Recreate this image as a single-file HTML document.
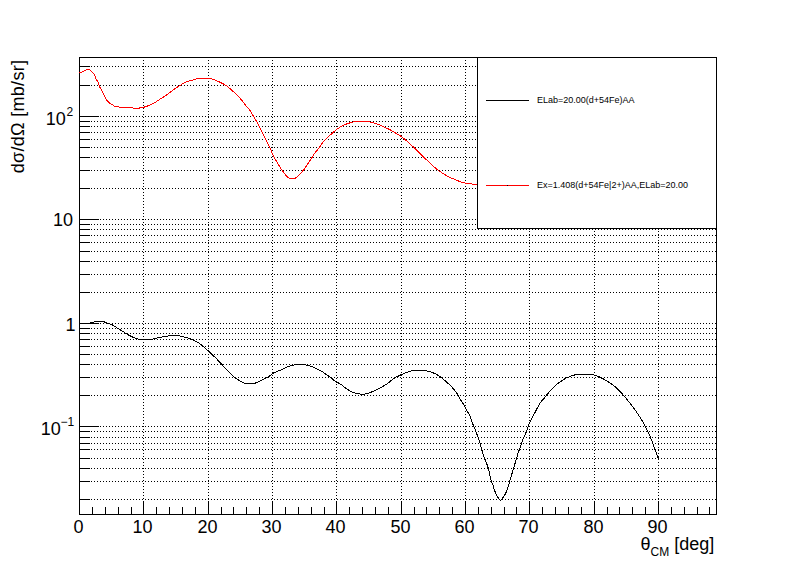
<!DOCTYPE html>
<html><head><meta charset="utf-8"><style>
html,body{margin:0;padding:0;background:#fff;}
svg{display:block;}
.crisp path,.crisp rect{shape-rendering:crispEdges;}
text{font-family:'Liberation Sans',sans-serif;fill:#000;}
.lab{font-size:18px;}
.sup{font-size:12px;}
.sub{font-size:12px;}
.leg{font-size:9px;}
</style></head><body>
<svg width="796" height="572" viewBox="0 0 796 572">
<rect x="0" y="0" width="796" height="572" fill="#fff"/>
<g class="crisp">
<path d="M79 499.5H717M79 481.5H717M79 468.5H717M79 458.5H717M79 449.5H717M79 443.5H717M79 437.5H717M79 431.5H717M79 426.5H717M79 395.5H717M79 377.5H717M79 364.5H717M79 354.5H717M79 346.5H717M79 339.5H717M79 333.5H717M79 328.5H717M79 323.5H717M79 292.5H717M79 274.5H717M79 261.5H717M79 251.5H717M79 242.5H717M79 235.5H717M79 229.5H717M79 224.5H717M79 219.5H717M79 188.5H717M79 170.5H717M79 157.5H717M79 147.5H717M79 139.5H717M79 132.5H717M79 126.5H717M79 121.5H717M79 116.5H717M79 85.5H717M79 66.5H717" stroke="#000" stroke-width="1" stroke-dasharray="1 2" fill="none"/>
<path d="M143.5 57V515M208.5 57V515M272.5 57V515M336.5 57V515M401.5 57V515M465.5 57V515M529.5 57V515M594.5 57V515M658.5 57V515" stroke="#000" stroke-width="1" stroke-dasharray="1 2" fill="none"/>
<rect x="79.5" y="57.5" width="637" height="457" fill="none" stroke="#000" stroke-width="1"/>
<path d="M79 499.5H90M79 481.5H90M79 468.5H90M79 458.5H90M79 449.5H90M79 443.5H90M79 437.5H90M79 431.5H90M79 426.5H99M79 395.5H90M79 377.5H90M79 364.5H90M79 354.5H90M79 346.5H90M79 339.5H90M79 333.5H90M79 328.5H90M79 323.5H99M79 292.5H90M79 274.5H90M79 261.5H90M79 251.5H90M79 242.5H90M79 235.5H90M79 229.5H90M79 224.5H90M79 219.5H99M79 188.5H90M79 170.5H90M79 157.5H90M79 147.5H90M79 139.5H90M79 132.5H90M79 126.5H90M79 121.5H90M79 116.5H99M79 85.5H90M79 66.5H90" stroke="#000" stroke-width="1" fill="none"/>
<path d="M79.5 502V515M92.5 507V515M105.5 507V515M118.5 507V515M131.5 507V515M143.5 502V515M156.5 507V515M169.5 507V515M182.5 507V515M195.5 507V515M208.5 502V515M221.5 507V515M233.5 507V515M246.5 507V515M259.5 507V515M272.5 502V515M285.5 507V515M298.5 507V515M311.5 507V515M324.5 507V515M336.5 502V515M349.5 507V515M362.5 507V515M375.5 507V515M388.5 507V515M401.5 502V515M414.5 507V515M426.5 507V515M439.5 507V515M452.5 507V515M465.5 502V515M478.5 507V515M491.5 507V515M504.5 507V515M516.5 507V515M529.5 502V515M542.5 507V515M555.5 507V515M568.5 507V515M581.5 507V515M594.5 502V515M607.5 507V515M619.5 507V515M632.5 507V515M645.5 507V515M658.5 502V515M671.5 507V515M684.5 507V515M697.5 507V515M709.5 507V515" stroke="#000" stroke-width="1" fill="none"/>
<path d="M79.50 323.50L81.62 323.43L84.69 323.34L87.91 323.21L90.50 323.00L92.20 322.66L93.44 322.23L94.46 321.81L95.50 321.50L96.57 321.35L97.56 321.29L98.52 321.29L99.50 321.30L100.55 321.30L101.62 321.33L102.64 321.38L103.50 321.50L104.12 321.69L104.56 321.95L104.98 322.23L105.50 322.50L106.18 322.75L106.94 323.00L107.73 323.25L108.50 323.50L109.27 323.75L110.06 324.00L110.82 324.25L111.50 324.50L112.05 324.73L112.50 324.94L112.95 325.18L113.50 325.50L114.18 325.93L114.94 326.44L115.73 326.98L116.50 327.50L117.27 328.02L118.06 328.56L118.82 329.07L119.50 329.50L120.05 329.80L120.50 330.00L120.95 330.20L121.50 330.50L122.18 330.93L122.94 331.44L123.73 331.98L124.50 332.50L125.25 333.01L126.00 333.53L126.75 334.04L127.50 334.50L128.25 334.91L129.00 335.28L129.75 335.64L130.50 336.00L131.25 336.39L132.00 336.78L132.75 337.16L133.50 337.50L134.25 337.79L135.00 338.03L135.75 338.26L136.50 338.50L137.17 338.77L137.78 339.06L138.50 339.32L139.50 339.50L140.89 339.58L142.56 339.57L144.33 339.54L146.00 339.50L147.61 339.48L149.22 339.45L150.72 339.40L152.00 339.30L152.93 339.15L153.59 338.95L154.21 338.73L155.00 338.50L155.98 338.26L157.06 338.01L158.23 337.75L159.50 337.50L160.91 337.25L162.44 336.99L164.00 336.74L165.50 336.50L166.97 336.25L168.44 335.99L169.81 335.77L171.00 335.60L171.90 335.51L172.59 335.49L173.24 335.49L174.00 335.50L174.93 335.49L175.94 335.49L176.98 335.51L178.00 335.60L178.99 335.77L179.97 335.99L180.96 336.25L182.00 336.50L183.12 336.74L184.31 336.99L185.47 337.25L186.50 337.50L187.34 337.74L188.06 337.97L188.75 338.21L189.50 338.50L190.33 338.83L191.19 339.19L192.08 339.58L193.00 340.00L194.00 340.48L195.06 341.00L196.09 341.52L197.00 342.00L197.65 342.33L198.14 342.57L198.68 342.90L199.50 343.50L200.71 344.45L202.16 345.64L203.74 346.96L205.30 348.30L206.84 349.65L208.42 351.06L210.01 352.52L211.60 354.00L213.17 355.50L214.75 357.02L216.32 358.59L217.90 360.20L219.56 361.98L221.29 363.89L222.89 365.67L224.20 367.10L225.06 367.98L225.61 368.48L226.07 368.89L226.70 369.50L227.58 370.41L228.57 371.46L229.58 372.53L230.50 373.50L231.34 374.36L232.14 375.17L232.87 375.89L233.50 376.50L233.97 376.95L234.31 377.26L234.62 377.52L235.00 377.80L235.46 378.10L235.95 378.39L236.47 378.68L237.00 379.00L237.54 379.35L238.11 379.73L238.69 380.12L239.30 380.50L239.96 380.89L240.65 381.28L241.34 381.66L242.00 382.00L242.59 382.30L243.15 382.56L243.71 382.80L244.30 383.00L244.89 383.17L245.48 383.31L246.15 383.42L247.00 383.50L248.15 383.54L249.51 383.53L250.87 383.51L252.00 383.50L252.81 383.52L253.44 383.56L253.98 383.57L254.50 383.50L255.00 383.32L255.44 383.06L255.89 382.77L256.40 382.50L257.01 382.25L257.69 382.00L258.38 381.75L259.00 381.50L259.54 381.25L260.02 381.00L260.49 380.75L261.00 380.50L261.56 380.25L262.15 380.00L262.74 379.75L263.30 379.50L263.82 379.25L264.32 379.00L264.81 378.75L265.30 378.50L265.78 378.26L266.24 378.03L266.71 377.78L267.20 377.50L267.73 377.18L268.29 376.84L268.85 376.47L269.40 376.10L269.95 375.70L270.51 375.28L271.03 374.86L271.50 374.50L271.87 374.21L272.17 373.96L272.46 373.74L272.80 373.50L273.21 373.25L273.64 373.00L274.11 372.75L274.60 372.50L275.11 372.25L275.66 372.00L276.22 371.75L276.80 371.50L277.40 371.25L278.03 371.00L278.66 370.75L279.30 370.50L279.95 370.25L280.62 370.00L281.28 369.75L281.90 369.50L282.46 369.25L282.99 369.00L283.49 368.75L284.00 368.50L284.49 368.25L284.97 368.00L285.46 367.75L286.00 367.50L286.62 367.24L287.31 366.98L287.99 366.73L288.60 366.50L289.06 366.31L289.42 366.15L289.84 365.99L290.50 365.80L291.47 365.56L292.66 365.29L293.94 365.02L295.20 364.80L296.40 364.61L297.61 364.44L298.87 364.33L300.20 364.30L301.67 364.37L303.25 364.53L304.83 364.74L306.30 365.00L307.63 365.30L308.87 365.66L310.08 366.06L311.30 366.50L312.53 366.96L313.76 367.46L315.00 368.00L316.30 368.60L317.71 369.27L319.20 370.00L320.66 370.76L322.00 371.50L323.16 372.23L324.19 372.95L325.19 373.68L326.20 374.40L327.24 375.10L328.27 375.79L329.31 376.50L330.40 377.30L331.53 378.23L332.68 379.25L333.87 380.27L335.10 381.20L336.39 381.97L337.72 382.65L339.07 383.33L340.40 384.10L341.71 385.02L343.01 386.02L344.30 387.04L345.60 388.00L346.90 388.92L348.19 389.82L349.49 390.67L350.80 391.40L352.09 392.00L353.36 392.51L354.68 392.93L356.10 393.30L357.67 393.64L359.34 393.94L361.04 394.15L362.70 394.20L364.30 394.09L365.87 393.83L367.43 393.46L369.00 393.00L370.57 392.42L372.15 391.72L373.73 390.96L375.30 390.20L376.88 389.46L378.46 388.71L380.03 387.93L381.60 387.10L383.15 386.23L384.70 385.32L386.25 384.35L387.80 383.30L389.37 382.09L390.94 380.76L392.52 379.45L394.10 378.30L395.68 377.36L397.25 376.56L398.82 375.82L400.40 375.10L401.97 374.37L403.55 373.68L405.12 373.01L406.70 372.40L408.28 371.81L409.87 371.25L411.45 370.76L413.00 370.40L414.50 370.18L415.96 370.08L417.44 370.06L419.00 370.10L420.75 370.20L422.62 370.38L424.44 370.59L426.00 370.80L427.21 370.97L428.19 371.14L429.07 371.34L430.00 371.60L431.00 371.93L431.99 372.32L432.99 372.75L434.00 373.20L435.02 373.67L436.05 374.18L437.08 374.71L438.10 375.30L439.11 375.93L440.11 376.61L441.10 377.33L442.10 378.10L443.10 378.94L444.10 379.85L445.10 380.78L446.10 381.70L447.10 382.58L448.09 383.45L449.09 384.34L450.10 385.30L451.14 386.34L452.20 387.44L453.24 388.57L454.20 389.70L455.05 390.76L455.81 391.80L456.57 392.91L457.40 394.20L458.34 395.79L459.35 397.58L460.36 399.39L461.30 401.00L462.18 402.35L463.03 403.55L463.81 404.68L464.50 405.80L465.07 406.97L465.53 408.13L465.96 409.22L466.40 410.20L466.88 410.99L467.35 411.64L467.82 412.27L468.30 413.00L468.77 413.82L469.23 414.68L469.70 415.65L470.20 416.80L470.73 418.23L471.28 419.88L471.84 421.56L472.40 423.10L472.96 424.44L473.52 425.68L474.08 426.88L474.60 428.10L475.07 429.35L475.51 430.59L475.94 431.84L476.40 433.10L476.91 434.33L477.44 435.55L477.98 436.82L478.50 438.20L478.99 439.73L479.46 441.38L479.92 443.08L480.40 444.80L480.89 446.56L481.39 448.36L481.89 450.16L482.40 451.90L482.92 453.57L483.44 455.21L483.97 456.79L484.50 458.30L485.05 459.69L485.60 460.99L486.15 462.30L486.70 463.70L487.24 465.19L487.77 466.74L488.30 468.39L488.80 470.20L489.26 472.32L489.70 474.67L490.14 476.99L490.60 479.00L491.11 480.58L491.65 481.89L492.19 483.10L492.70 484.40L493.16 485.84L493.60 487.32L494.04 488.80L494.50 490.20L495.00 491.55L495.53 492.86L496.07 494.09L496.60 495.20L497.14 496.18L497.68 497.06L498.21 497.83L498.70 498.50L499.14 499.11L499.54 499.63L499.92 500.02L500.30 500.20L500.68 500.12L501.06 499.81L501.43 499.40L501.80 499.00L502.16 498.62L502.51 498.21L502.85 497.76L503.20 497.30L503.53 496.86L503.86 496.43L504.20 495.90L504.60 495.20L505.06 494.34L505.56 493.36L506.11 492.18L506.70 490.70L507.32 488.94L507.97 486.94L508.69 484.64L509.50 482.00L510.49 478.70L511.62 474.86L512.71 471.11L513.60 468.10L514.20 466.10L514.62 464.73L514.95 463.65L515.30 462.50L515.66 461.27L515.99 460.11L516.33 458.95L516.70 457.70L517.11 456.31L517.56 454.84L518.02 453.35L518.50 451.90L519.01 450.52L519.56 449.18L520.10 447.85L520.60 446.50L521.03 445.14L521.42 443.77L521.83 442.40L522.30 441.00L522.89 439.53L523.55 438.01L524.21 436.53L524.80 435.20L525.28 434.11L525.69 433.19L526.08 432.27L526.50 431.20L526.94 429.91L527.39 428.48L527.87 427.02L528.40 425.60L529.00 424.25L529.66 422.93L530.33 421.61L531.00 420.30L531.60 419.08L532.17 417.93L532.80 416.66L533.60 415.10L534.69 413.02L535.97 410.56L537.25 408.15L538.30 406.20L539.01 404.88L539.51 403.96L539.95 403.20L540.50 402.40L541.21 401.51L541.99 400.65L542.78 399.81L543.50 399.00L544.13 398.21L544.70 397.45L545.25 396.71L545.80 396.00L546.34 395.34L546.85 394.73L547.39 394.10L548.00 393.40L548.71 392.60L549.50 391.72L550.31 390.84L551.10 390.00L551.86 389.22L552.61 388.48L553.35 387.75L554.10 387.00L554.87 386.19L555.64 385.36L556.40 384.56L557.10 383.90L557.73 383.41L558.30 383.05L558.85 382.74L559.40 382.40L559.95 382.02L560.50 381.65L561.05 381.27L561.60 380.90L562.17 380.52L562.75 380.15L563.33 379.77L563.90 379.40L564.44 379.01L564.95 378.62L565.49 378.24L566.10 377.90L566.81 377.62L567.60 377.38L568.41 377.15L569.20 376.90L569.92 376.61L570.61 376.31L571.35 376.00L572.20 375.70L573.15 375.39L574.18 375.08L575.34 374.80L576.70 374.60L578.32 374.50L580.16 374.48L582.10 374.49L584.00 374.50L585.89 374.47L587.81 374.44L589.70 374.46L591.50 374.60L593.13 374.86L594.64 375.22L596.16 375.69L597.80 376.30L599.62 377.08L601.54 378.02L603.50 379.04L605.40 380.10L607.25 381.17L609.08 382.29L610.87 383.47L612.60 384.70L614.24 385.97L615.81 387.29L617.35 388.69L618.90 390.20L620.48 391.84L622.05 393.60L623.63 395.43L625.20 397.30L626.78 399.20L628.35 401.16L629.93 403.16L631.50 405.20L633.08 407.26L634.65 409.35L636.22 411.51L637.80 413.80L639.41 416.28L641.05 418.90L642.64 421.55L644.10 424.10L645.39 426.46L646.55 428.71L647.66 431.00L648.80 433.50L649.99 436.30L651.20 439.30L652.38 442.35L653.50 445.30L654.60 448.32L655.67 451.43L656.64 454.22L657.40 456.30L657.90 457.42L658.19 457.84L658.37 457.91L658.50 458.00" stroke="#000" stroke-width="1" fill="none" stroke-linejoin="round"/>
<path d="M79.00 72.50L79.36 72.50L79.88 72.51L80.45 72.48L81.00 72.40L81.49 72.23L81.98 72.01L82.48 71.75L83.00 71.50L83.57 71.25L84.17 71.00L84.76 70.75L85.30 70.50L85.77 70.25L86.20 69.99L86.60 69.77L87.00 69.60L87.39 69.50L87.76 69.45L88.13 69.45L88.50 69.50L88.88 69.61L89.26 69.78L89.64 69.99L90.00 70.20L90.34 70.43L90.67 70.67L90.99 70.94L91.30 71.20L91.61 71.47L91.92 71.74L92.22 72.02L92.50 72.30L92.75 72.55L92.96 72.77L93.20 73.06L93.50 73.50L93.91 74.17L94.39 74.99L94.88 75.87L95.30 76.70L95.60 77.45L95.83 78.17L96.07 78.88L96.40 79.60L96.88 80.31L97.46 81.00L98.04 81.72L98.50 82.50L98.78 83.36L98.94 84.28L99.11 85.24L99.40 86.20L99.87 87.20L100.44 88.22L101.05 89.24L101.60 90.20L102.09 91.08L102.54 91.91L102.98 92.71L103.40 93.50L103.81 94.28L104.19 95.05L104.56 95.79L104.90 96.50L105.19 97.16L105.43 97.79L105.69 98.40L106.00 99.00L106.39 99.59L106.83 100.17L107.31 100.74L107.80 101.30L108.32 101.88L108.87 102.47L109.44 103.03L110.00 103.50L110.55 103.84L111.10 104.09L111.65 104.32L112.20 104.60L112.73 105.00L113.25 105.46L113.79 105.89L114.40 106.20L115.10 106.33L115.86 106.33L116.64 106.32L117.40 106.40L118.06 106.64L118.66 106.98L119.36 107.30L120.30 107.50L121.64 107.53L123.25 107.46L124.89 107.35L126.30 107.30L127.34 107.31L128.17 107.34L128.99 107.40L130.00 107.50L131.26 107.70L132.65 107.96L134.14 108.20L135.70 108.30L137.36 108.24L139.12 108.07L140.90 107.82L142.60 107.50L144.20 107.11L145.74 106.64L147.26 106.11L148.80 105.50L150.37 104.83L151.94 104.08L153.52 103.27L155.10 102.40L156.67 101.45L158.25 100.42L159.82 99.36L161.40 98.30L162.97 97.28L164.53 96.26L166.10 95.22L167.70 94.10L169.40 92.83L171.17 91.46L172.88 90.13L174.40 89.00L175.66 88.16L176.74 87.51L177.75 86.93L178.80 86.30L179.90 85.57L181.00 84.80L182.10 84.06L183.20 83.40L184.30 82.84L185.40 82.35L186.50 81.91L187.60 81.50L188.70 81.13L189.80 80.81L190.90 80.50L192.00 80.20L193.12 79.88L194.25 79.55L195.36 79.25L196.40 79.00L197.32 78.81L198.16 78.67L199.02 78.57L200.00 78.50L201.16 78.46L202.44 78.46L203.75 78.48L205.00 78.50L206.18 78.49L207.34 78.48L208.47 78.50L209.60 78.60L210.71 78.79L211.81 79.04L212.90 79.35L214.00 79.70L215.10 80.09L216.19 80.53L217.29 81.00L218.40 81.50L219.53 82.03L220.68 82.58L221.84 83.17L223.00 83.80L224.10 84.39L225.16 84.97L226.31 85.69L227.70 86.70L229.47 88.15L231.51 89.93L233.57 91.79L235.40 93.50L236.93 94.97L238.29 96.35L239.55 97.70L240.80 99.10L242.02 100.57L243.19 102.08L244.33 103.60L245.50 105.10L246.72 106.58L247.97 108.05L249.18 109.52L250.30 111.00L251.29 112.49L252.18 113.99L253.04 115.50L253.90 117.00L254.81 118.53L255.72 120.08L256.60 121.59L257.40 123.00L258.05 124.21L258.59 125.28L259.14 126.39L259.80 127.70L260.62 129.30L261.53 131.09L262.47 132.96L263.40 134.80L264.30 136.60L265.21 138.40L266.11 140.20L267.00 142.00L267.91 143.83L268.84 145.69L269.73 147.48L270.50 149.10L271.11 150.47L271.61 151.67L272.07 152.81L272.60 154.00L273.21 155.30L273.86 156.63L274.53 157.95L275.20 159.20L275.87 160.36L276.55 161.45L277.23 162.52L277.90 163.60L278.56 164.72L279.21 165.86L279.85 166.96L280.50 168.00L281.15 168.94L281.80 169.81L282.45 170.65L283.10 171.50L283.73 172.38L284.34 173.27L284.99 174.15L285.70 175.00L286.51 175.89L287.39 176.80L288.30 177.61L289.20 178.20L290.10 178.49L291.01 178.57L291.89 178.54L292.70 178.50L293.41 178.52L294.05 178.52L294.66 178.44L295.30 178.20L295.95 177.77L296.59 177.20L297.27 176.53L298.00 175.80L298.84 174.99L299.76 174.09L300.67 173.17L301.50 172.30L302.19 171.57L302.80 170.91L303.41 170.20L304.10 169.30L304.91 168.13L305.79 166.79L306.70 165.37L307.60 164.00L308.48 162.70L309.35 161.40L310.23 160.10L311.10 158.80L311.95 157.49L312.79 156.18L313.66 154.85L314.60 153.50L315.66 152.11L316.79 150.69L317.94 149.28L319.00 147.90L319.90 146.60L320.69 145.34L321.54 144.07L322.60 142.70L323.96 141.19L325.53 139.58L327.18 137.96L328.80 136.40L330.37 134.90L331.94 133.43L333.52 132.02L335.10 130.70L336.68 129.47L338.25 128.31L339.83 127.25L341.40 126.30L342.97 125.48L344.55 124.78L346.12 124.16L347.70 123.60L349.27 123.08L350.85 122.62L352.43 122.22L354.00 121.90L355.58 121.66L357.16 121.49L358.73 121.38L360.30 121.30L361.85 121.25L363.40 121.24L364.95 121.28L366.50 121.40L368.07 121.60L369.64 121.88L371.22 122.21L372.80 122.60L374.38 123.04L375.95 123.54L377.53 124.10L379.10 124.70L380.68 125.36L382.25 126.09L383.82 126.84L385.40 127.60L386.98 128.34L388.56 129.09L390.13 129.87L391.70 130.70L393.34 131.65L395.02 132.69L396.60 133.69L397.90 134.50L398.76 134.99L399.29 135.27L399.81 135.56L400.60 136.10L401.76 136.96L403.14 138.01L404.62 139.18L406.10 140.40L407.58 141.68L409.11 143.05L410.66 144.47L412.20 145.90L413.72 147.34L415.24 148.81L416.77 150.30L418.30 151.80L419.85 153.32L421.40 154.86L422.95 156.40L424.50 157.90L426.03 159.36L427.56 160.79L429.08 162.20L430.60 163.60L432.12 165.02L433.65 166.44L435.18 167.81L436.70 169.10L438.22 170.28L439.75 171.38L441.27 172.41L442.80 173.40L444.32 174.35L445.85 175.26L447.38 176.11L448.90 176.90L450.42 177.62L451.94 178.26L453.47 178.88L455.00 179.50L456.55 180.16L458.10 180.82L459.65 181.45L461.20 182.00L462.73 182.47L464.26 182.87L465.78 183.21L467.30 183.50L468.87 183.72L470.48 183.89L472.02 184.01L473.40 184.10L474.66 184.16L475.83 184.19L476.81 184.19L477.50 184.20" stroke="#f00" stroke-width="1" fill="none" stroke-linejoin="round"/>
<rect x="477.5" y="57.5" width="239" height="171" fill="#fff" stroke="#000" stroke-width="1"/>
<path d="M486 100.5H529" stroke="#000" stroke-width="1"/>
<path d="M486 185.5H529" stroke="#f00" stroke-width="1"/>
<rect x="507" y="185" width="1" height="1" fill="#000"/>
</g>
<text x="78.5" y="533" text-anchor="middle" class="lab">0</text>
<text x="142.5" y="533" text-anchor="middle" class="lab">10</text>
<text x="207.5" y="533" text-anchor="middle" class="lab">20</text>
<text x="271.5" y="533" text-anchor="middle" class="lab">30</text>
<text x="335.5" y="533" text-anchor="middle" class="lab">40</text>
<text x="400.5" y="533" text-anchor="middle" class="lab">50</text>
<text x="464.5" y="533" text-anchor="middle" class="lab">60</text>
<text x="528.5" y="533" text-anchor="middle" class="lab">70</text>
<text x="593.5" y="533" text-anchor="middle" class="lab">80</text>
<text x="657.5" y="533" text-anchor="middle" class="lab">90</text>
<text x="65.8" y="125" text-anchor="end" class="lab">10</text><text x="66.5" y="115.7" class="sup">2</text>
<text x="73" y="226" text-anchor="end" class="lab">10</text>
<text x="75.5" y="331" text-anchor="end" class="lab">1</text>
<text x="60.7" y="434.8" text-anchor="end" class="lab">10</text><text x="60.5" y="426" class="sup">&#8722;1</text>
<text x="714.3" y="550" text-anchor="end" class="lab"><tspan>&#952;</tspan><tspan class="sub" dy="6">CM</tspan><tspan dy="-6"> [deg]</tspan></text>
<text transform="translate(24,60) rotate(-90)" text-anchor="end" class="lab" textLength="113.3" lengthAdjust="spacing">d&#963;/d&#937; [mb/sr]</text>
<text x="537" y="103" class="leg">ELab=20.00(d+54Fe)AA</text>
<text x="537" y="188" class="leg">Ex=1.408(d+54Fe|2+)AA,ELab=20.00</text>
</svg>
</body></html>
